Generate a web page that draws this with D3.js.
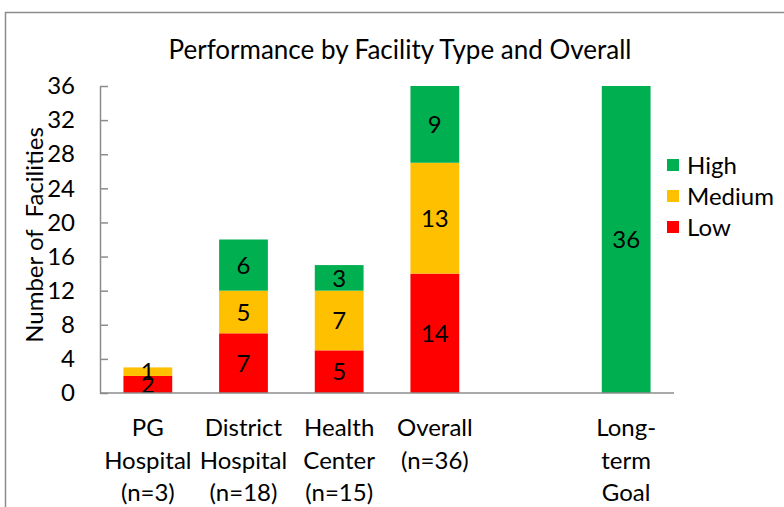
<!DOCTYPE html>
<meta charset="utf-8">
<style>
body { margin: 0; background: #fff; }
text { font-family: Lato, "Open Sans", sans-serif; fill: #000; }
</style>
<body>
<script src="https://cdnjs.cloudflare.com/ajax/libs/d3/7.8.5/d3.min.js"></script>
<script>

var w = 784;
var h = 507;

// data
var categories = ["PG|Hospital|(n=3)", "District|Hospital|(n=18)", "Health|Center|(n=15)", "Overall|(n=36)", "", "Long-|term|Goal"];
var low    = [2, 7, 5, 14, 0, 0];
var medium = [1, 5, 7, 13, 0, 0];
var high   = [0, 6, 3, 9, 0, 36];
var seriesNames = ["Low", "Medium", "High"];
var colors = {Low: "#ff0000", Medium: "#ffc000", High: "#00b050"};
var yTicks = [0, 4, 8, 12, 16, 20, 24, 28, 32, 36];

var rows = categories.map(function(c, i) {
	return {cat: i, Low: low[i], Medium: medium[i], High: high[i]};
});

var svg = d3.select("body")
	.append("svg")
	.attr("width", w)
	.attr("height", h);

// chart frame
svg.append("rect")
	.attr("x", 5.5)
	.attr("y", 12.5)
	.attr("width", 800)
	.attr("height", 520)
	.attr("fill", "none")
	.attr("stroke", "#8c8c8c")
	.attr("stroke-width", 1.5);

svg.append("text")
	.attr("x", 400)
	.attr("y", 59)
	.attr("text-anchor", "middle")
	.style("font-size", "26px")
	.text("Performance by Facility Type and Overall");

var x = d3.scaleBand()
	.domain(d3.range(categories.length))
	.range([100, 674])
	.paddingInner(0.49)
	.paddingOuter(0.245);

var y = d3.scaleLinear()
	.domain([0, 36])
	.range([393, 86]);

var stack = d3.stack().keys(seriesNames);
var layers = stack(rows);

var g = svg.append("g");

layers.forEach(function(layer) {
	var name = layer.key;
	g.selectAll(".bar-" + name)
		.data(layer.filter(function(d) { return d[1] - d[0] > 0; }))
		.enter()
		.append("rect")
		.attr("x", function(d) { return x(d.data.cat); })
		.attr("y", function(d) { return y(d[1]); })
		.attr("width", x.bandwidth())
		.attr("height", function(d) { return y(d[0]) - y(d[1]); })
		.attr("fill", colors[name]);

	g.selectAll(".lbl-" + name)
		.data(layer.filter(function(d) { return d[1] - d[0] > 0; }))
		.enter()
		.append("text")
		.attr("x", function(d) { return x(d.data.cat) + x.bandwidth() / 2; })
		.attr("y", function(d) { return (y(d[0]) + y(d[1])) / 2; })
		.attr("dy", "0.36em")
		.attr("text-anchor", "middle")
		.style("font-size", "24px")
		.text(function(d) { return d[1] - d[0]; });
});

// y axis
var yAxis = d3.axisLeft(y)
	.tickValues(yTicks)
	.tickSizeInner(-8)
	.tickSizeOuter(0)
	.tickPadding(25);

var ya = svg.append("g")
	.attr("transform", "translate(100,0)")
	.call(yAxis);
ya.selectAll("path, line").attr("stroke", "#8c8c8c").attr("stroke-width", 1.5);
ya.selectAll("text").style("font-size", "24px").attr("font-family", null);

// x axis baseline
svg.append("line")
	.attr("x1", 100)
	.attr("x2", 674)
	.attr("y1", 393)
	.attr("y2", 393)
	.attr("stroke", "#8c8c8c")
	.attr("stroke-width", 1.5);

// category labels
var cl = svg.selectAll(".cat")
	.data(categories)
	.enter()
	.append("text")
	.attr("text-anchor", "middle")
	.attr("transform", function(d, i) { return "translate(" + (x(i) + x.bandwidth() / 2) + ",436)"; })
	.style("font-size", "24px");
cl.each(function(d) {
	var t = d3.select(this);
	d.split("|").forEach(function(line, k) {
		if (line === "") return;
		t.append("tspan").attr("x", 0).attr("y", k * 32.5).text(line);
	});
});

// y axis title
svg.append("text")
	.attr("transform", "translate(43,235) rotate(-90)")
	.attr("text-anchor", "middle")
	.style("font-size", "24px")
	.style("white-space", "pre")
	.text("Number of  Facilities");

// legend
var legendNames = ["High", "Medium", "Low"];
var lg = svg.selectAll(".legend")
	.data(legendNames)
	.enter()
	.append("g")
	.attr("transform", function(d, i) { return "translate(667," + (165 + i * 31) + ")"; });
lg.append("rect")
	.attr("x", 0)
	.attr("y", -6)
	.attr("width", 12)
	.attr("height", 12)
	.attr("fill", function(d) { return colors[d]; });
lg.append("text")
	.attr("x", 20)
	.attr("dy", "0.36em")
	.style("font-size", "24px")
	.text(function(d) { return d; });

</script>
</body>
